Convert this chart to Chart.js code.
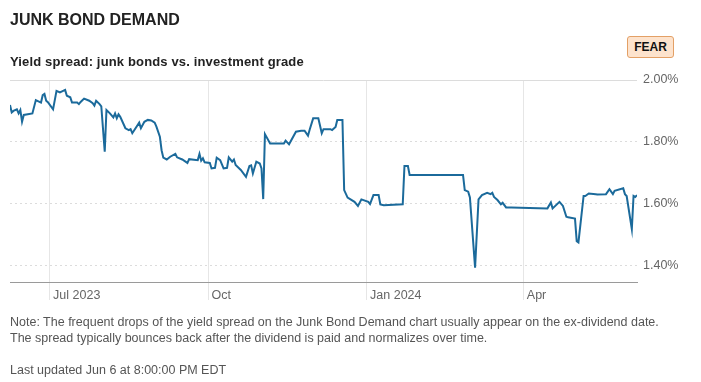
<!DOCTYPE html>
<html>
<head>
<meta charset="utf-8">
<script src="https://cdn.jsdelivr.net/npm/chart.js@4.4.1/dist/chart.umd.min.js"></script>
<style>
  html, body { margin: 0; padding: 0; background: #fff; }
  body { width: 701px; height: 382px; position: relative; overflow: hidden; font-family: "Liberation Sans", Arial, sans-serif; }
  #c { position: absolute; left: 0; top: 0; }
  .t { position: absolute; white-space: nowrap; }
  #title { left: 10px; top: 10px; font-size: 16px; line-height: 20px; font-weight: bold; color: #222; }
  #sub { left: 10px; top: 54px; font-size: 13px; line-height: 16px; font-weight: bold; color: #222; letter-spacing: 0.15px; }
  #badge { left: 627px; top: 36px; width: 45px; height: 20px; border: 1px solid #e3a066; border-radius: 3px; background: #fde3cd; font-size: 12px; line-height: 20px; font-weight: bold; color: #111; text-align: center; }
  #note { left: 10px; top: 314px; font-size: 12.5px; line-height: 16px; color: #555; }
  #upd { left: 10px; top: 362px; font-size: 12.5px; line-height: 16px; color: #555; }
</style>
</head>
<body>
<canvas id="c" width="701" height="382"></canvas>
<div class="t" id="title">JUNK BOND DEMAND</div>
<div class="t" id="sub">Yield spread: junk bonds vs. investment grade</div>
<div class="t" id="badge">FEAR</div>
<div class="t" id="note">Note: The frequent drops of the yield spread on the Junk Bond Demand chart usually appear on the ex-dividend date.<br>The spread typically bounces back after the dividend is paid and normalizes over time.</div>
<div class="t" id="upd">Last updated Jun 6 at 8:00:00 PM EDT</div>
<script>
const dates = [
  '2023-06-08','2023-06-09','2023-06-10','2023-06-12','2023-06-13','2023-06-14','2023-06-15','2023-06-16',
  '2023-06-21','2023-06-23','2023-06-26','2023-06-27','2023-06-28','2023-06-29','2023-06-30',
  '2023-07-03','2023-07-05','2023-07-07','2023-07-10','2023-07-11','2023-07-13','2023-07-14','2023-07-17',
  '2023-07-18','2023-07-19','2023-07-21','2023-07-24','2023-07-26','2023-07-27','2023-07-28','2023-07-30','2023-07-31',
  '2023-08-02','2023-08-03','2023-08-05','2023-08-07','2023-08-08','2023-08-09','2023-08-10','2023-08-11',
  '2023-08-14','2023-08-16','2023-08-17','2023-08-18','2023-08-22','2023-08-23','2023-08-25','2023-08-27',
  '2023-08-29','2023-08-31',
  '2023-09-01','2023-09-03','2023-09-04','2023-09-05','2023-09-07','2023-09-09','2023-09-12','2023-09-13',
  '2023-09-16','2023-09-19','2023-09-20','2023-09-25','2023-09-26','2023-09-27','2023-09-28','2023-09-29',
  '2023-10-02','2023-10-03','2023-10-05','2023-10-06','2023-10-08','2023-10-10','2023-10-12','2023-10-13',
  '2023-10-15','2023-10-16','2023-10-17','2023-10-20','2023-10-23','2023-10-25','2023-10-26','2023-10-27',
  '2023-10-29','2023-10-31',
  '2023-11-01','2023-11-02','2023-11-03','2023-11-06','2023-11-14','2023-11-15','2023-11-17','2023-11-21',
  '2023-11-24','2023-11-26','2023-11-28','2023-11-29',
  '2023-12-01','2023-12-04','2023-12-06','2023-12-07','2023-12-11','2023-12-12','2023-12-14','2023-12-15',
  '2023-12-18','2023-12-19','2023-12-21','2023-12-25','2023-12-27','2023-12-29',
  '2024-01-02','2024-01-03','2024-01-05','2024-01-08','2024-01-09','2024-01-11','2024-01-22','2024-01-23',
  '2024-01-25','2024-01-26',
  '2024-02-26','2024-02-27','2024-02-29',
  '2024-03-01','2024-03-04','2024-03-06','2024-03-08','2024-03-11','2024-03-13','2024-03-14','2024-03-15',
  '2024-03-17','2024-03-19','2024-03-20','2024-03-22','2024-03-25',
  '2024-04-15','2024-04-17','2024-04-18','2024-04-22','2024-04-24','2024-04-26','2024-04-27',
  '2024-05-01','2024-05-02','2024-05-03','2024-05-06','2024-05-07','2024-05-09','2024-05-13','2024-05-14',
  '2024-05-19','2024-05-21','2024-05-23','2024-05-24','2024-05-29','2024-05-30','2024-05-31',
  '2024-06-03','2024-06-04','2024-06-05','2024-06-06'
];
const spread = [
  1.919,1.895,1.900,1.905,1.892,1.903,1.865,1.887,
  1.892,1.935,1.927,1.951,1.955,1.933,1.928,
  1.905,1.965,1.960,1.968,1.949,1.944,1.927,1.927,
  1.922,1.929,1.940,1.933,1.925,1.917,1.933,1.922,1.915,
  1.768,1.903,1.892,1.879,1.892,1.876,1.889,1.881,
  1.844,1.838,1.841,1.828,1.862,1.844,1.865,1.871,
  1.869,1.862,
  1.849,1.817,1.773,1.749,1.743,1.752,1.761,1.750,
  1.743,1.732,1.744,1.741,1.761,1.739,1.747,1.734,
  1.732,1.714,1.716,1.749,1.741,1.714,1.716,1.750,
  1.736,1.743,1.725,1.709,1.687,1.722,1.724,1.698,
  1.736,1.730,
  1.714,1.615,1.825,1.795,1.795,1.804,1.792,1.833,
  1.836,1.836,1.820,1.840,
  1.876,1.876,1.828,1.841,1.841,1.838,1.848,1.871,
  1.871,1.644,1.620,1.606,1.593,1.614,
  1.606,1.599,1.628,1.628,1.598,1.595,1.598,1.722,
  1.722,1.693,
  1.693,1.644,1.639,
  1.620,1.393,1.614,1.628,1.635,1.631,1.635,1.622,
  1.612,1.598,1.603,1.588,1.588,
  1.585,1.604,1.585,1.606,1.593,1.558,1.556,
  1.552,1.479,1.475,1.625,1.625,1.633,1.631,1.630,
  1.631,1.647,1.631,1.642,1.650,1.631,1.625,
  1.518,1.625,1.622,1.628
];
const tickDates = ['2023-07-01','2023-10-01','2024-01-01','2024-04-01'];
const tickLabels = ['Jul 2023','Oct','Jan 2024','Apr'];
const yTickValues = [1.40, 1.60, 1.80, 2.00];
const xStart = '2023-06-08';
const xEnd = '2024-06-06';
const yMin = 1.347;
const yMax = 2.00;

const origin = Date.UTC(2023, 6, 1);
function dayOf(s) {
  const p = s.split('-').map(Number);
  return (Date.UTC(p[0], p[1] - 1, p[2]) - origin) / 86400000;
}

const points = dates.map((d, i) => ({ x: dayOf(d), y: spread[i] }));
const tickFont = { family: '"Liberation Sans", Arial, sans-serif', size: 12.5 };

new Chart(document.getElementById('c'), {
  type: 'line',
  data: {
    datasets: [{
      data: points,
      borderColor: '#1b6a9b',
      borderWidth: 2,
      pointRadius: 0,
      tension: 0,
      fill: false
    }]
  },
  options: {
    responsive: false,
    animation: false,
    events: [],
    layout: { padding: { top: 80, left: 10, right: 0, bottom: 0 } },
    plugins: { legend: { display: false }, tooltip: { enabled: false }, title: { display: false } },
    scales: {
      x: {
        type: 'linear',
        min: dayOf(xStart),
        max: dayOf(xEnd),
        afterBuildTicks: s => { s.ticks = tickDates.map(d => ({ value: dayOf(d) })); },
        afterFit: s => { s.height = 100; },
        ticks: {
          callback: (v, i) => tickLabels[i],
          align: 'start',
          labelOffset: 3.5,
          padding: -12,
          color: '#666',
          font: tickFont,
          maxRotation: 0,
          autoSkip: false
        },
        grid: { color: '#e6e6e6', lineWidth: 1, drawTicks: true, tickLength: 18 },
        border: { display: true, color: '#9a9a9a', width: 1 }
      },
      y: {
        position: 'right',
        min: yMin,
        max: yMax,
        afterBuildTicks: s => { s.ticks = yTickValues.map(v => ({ value: v })); },
        afterFit: s => { s.width = 64; },
        ticks: {
          callback: v => v.toFixed(2) + '%',
          padding: 6,
          color: '#666',
          font: tickFont
        },
        grid: { color: '#dcdcdc', lineWidth: 1, drawTicks: false },
        border: {
          display: false,
          dash: ctx => (ctx.tick && Math.abs(ctx.tick.value - 2) < 1e-9) ? [] : [2, 3]
        }
      }
    }
  }
});
</script>
</body>
</html>
